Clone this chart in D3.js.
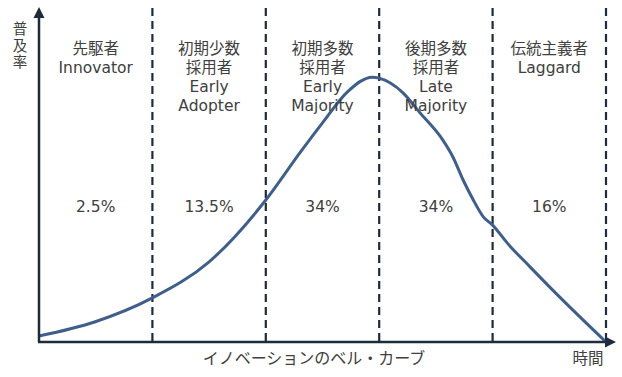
<!DOCTYPE html>
<html><head><meta charset="utf-8">
<script src="https://cdn.jsdelivr.net/npm/d3@7"></script>
<style>
html,body{margin:0;padding:0;background:#fff;}
text{font-family:"DejaVu Sans","Noto Sans CJK JP",sans-serif;fill:#404040;}
</style></head>
<body>
<svg id="chart" width="622" height="377"></svg>
<script>
// Segment labels (JP + EN lines)
const segmentLabels = [
  ["先駆者", "Innovator"],
  ["初期少数", "採用者", "Early", "Adopter"],
  ["初期多数", "採用者", "Early", "Majority"],
  ["後期多数", "採用者", "Late", "Majority"],
  ["伝統主義者", "Laggard"]
];
const segmentShares = ["2.5%", "13.5%", "34%", "34%", "16%"];
// Bell curve, x in segment units (0..5), y in adoption level (0..100)
const curveX = [0, 0.49, 1.0, 1.5, 2.0, 2.30, 2.5, 2.72, 2.94, 3.0, 3.21, 3.36, 3.56, 3.65, 3.74, 3.83, 3.92, 4.0, 4.13, 4.33, 4.59, 5.0];
const curveY = [1.8, 6.0, 13.2, 24, 42.5, 56.6, 65.6, 74.9, 79.3, 79.0, 74.6, 68.6, 60.5, 55.4, 48.5, 42.5, 37.4, 35.0, 29.6, 22.5, 13.5, 0];
const dividers = [1, 2, 3, 4, 5];
const yAxisTitle = ["普", "及", "率"];
const xAxisTitle = "イノベーションのベル・カーブ";
const xEndLabel = "時間";

const svg = d3.select("#chart");
const x = d3.scaleLinear().domain([0, 5]).range([39, 606]);
const y = d3.scaleLinear().domain([0, 100]).range([342, 8]);
const axisColor = "#1e2b3b";

// dashed dividers
svg.selectAll("line.div").data(dividers).join("line")
  .attr("x1", d => x(d)).attr("x2", d => x(d))
  .attr("y1", 8).attr("y2", 342)
  .attr("stroke", axisColor).attr("stroke-width", 2.2)
  .attr("stroke-dasharray", "8,5");

// curve
const pts = curveX.map((d, i) => [d, curveY[i]]);
svg.append("path").datum(pts)
  .attr("d", d3.line().x(d => x(d[0])).y(d => y(d[1])).curve(d3.curveMonotoneX))
  .attr("fill", "none").attr("stroke", "#3f5f8a").attr("stroke-width", 3);

// axes
svg.append("line").attr("x1", 39).attr("x2", 39).attr("y1", 342).attr("y2", 14)
  .attr("stroke", axisColor).attr("stroke-width", 2.5);
svg.append("line").attr("x1", 38).attr("x2", 608).attr("y1", 342).attr("y2", 342)
  .attr("stroke", axisColor).attr("stroke-width", 2.5);
svg.append("path").attr("d", "M39,7 L44.5,18 L33.5,18 Z").attr("fill", axisColor);
svg.append("path").attr("d", "M616,342 L605,336.5 L605,347.5 Z").attr("fill", axisColor);

// segment labels
const g = svg.selectAll("g.seg").data(segmentLabels).join("g")
  .attr("transform", (d, i) => `translate(${x(i + 0.5)},0)`);
g.each(function(lines) {
  d3.select(this).selectAll("text").data(lines).join("text")
    .attr("text-anchor", "middle").attr("y", (d, j) => 54 + j * 19)
    .attr("font-size", 15.5).text(d => d);
});
svg.selectAll("text.share").data(segmentShares).join("text")
  .attr("class", "share").attr("text-anchor", "middle")
  .attr("x", (d, i) => x(i + 0.5)).attr("y", 212)
  .attr("font-size", 15.5).text(d => d);

// axis titles
svg.selectAll("text.yt").data(yAxisTitle).join("text")
  .attr("class", "yt").attr("text-anchor", "middle")
  .attr("x", 20).attr("y", (d, i) => 34 + i * 16.5)
  .attr("font-size", 14.5).text(d => d);
svg.append("text").attr("text-anchor", "middle").attr("x", 314).attr("y", 364)
  .attr("font-size", 16).text(xAxisTitle);
svg.append("text").attr("text-anchor", "middle").attr("x", 588).attr("y", 364)
  .attr("font-size", 15.5).text(xEndLabel);
</script>
</body></html>
